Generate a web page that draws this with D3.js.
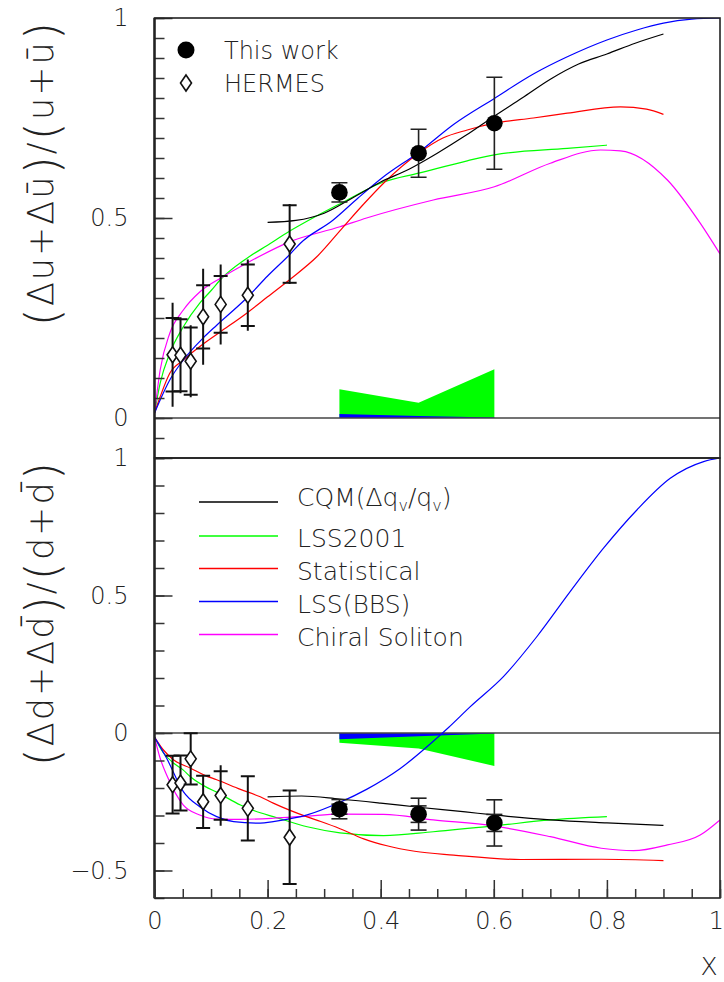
<!DOCTYPE html>
<html lang="en">
  <head>
    <meta charset="utf-8" />
    <script src="https://d3js.org/d3.v7.min.js"></script>
    <style>
      body { margin: 0; background: #fff; }
      text { font-family: "DejaVu Sans", "Liberation Sans", sans-serif; font-weight: 200; fill: #222; }
    </style>
  </head>
  <body>
    <script>
      // ---- data ----
      // measured points ("This work")
      var workX = [0.327, 0.467, 0.601];
      var workU = [0.564, 0.662, 0.737];
      var workUErr = [0.024, 0.06, 0.115];
      var workD = [-0.277, -0.295, -0.327];
      var workDErr = [0.035, 0.058, 0.084];
      var workDStat = [0.018, 0.03, 0.031];

      // HERMES points
      var hermesX = [0.032, 0.046, 0.064, 0.086, 0.117, 0.165, 0.239];
      var hermesU = [0.158, 0.157, 0.142, 0.253, 0.284, 0.307, 0.435];
      var hermesUStat = [0.092, 0.09, 0.084, 0.079, 0.071, 0.077, 0.097];
      var hermesUTot = [0.13, 0.095, 0.09, 0.12, 0.1, 0.089, 0.1];
      var hermesD = [-0.188, -0.182, -0.094, -0.25, -0.227, -0.274, -0.379];
      var hermesDStat = [0.105, 0.1, 0.093, 0.095, 0.088, 0.117, 0.17];
      var hermesDTot = [0.105, 0.1, 0.093, 0.095, 0.11, 0.117, 0.17];

      // model curves, upper panel [x, value]
      var cqmU = [[0.2,0.489],[0.25,0.494],[0.3,0.512],[0.35,0.55],[0.4,0.59],[0.45,0.622],[0.5,0.662],[0.55,0.706],[0.6,0.754],[0.65,0.8],[0.7,0.847],[0.75,0.885],[0.8,0.91],[0.85,0.937],[0.9,0.96]];
      var lss2001U = [[0,0.012],[0.01,0.087],[0.027,0.162],[0.051,0.228],[0.08,0.287],[0.101,0.32],[0.116,0.345],[0.163,0.399],[0.2,0.432],[0.24,0.468],[0.28,0.5],[0.33,0.537],[0.405,0.59],[0.467,0.612],[0.553,0.643],[0.601,0.658],[0.73,0.674],[0.8,0.682]];
      var statU = [[0,0.012],[0.01,0.053],[0.027,0.112],[0.051,0.145],[0.086,0.185],[0.116,0.215],[0.163,0.262],[0.2,0.303],[0.24,0.347],[0.287,0.403],[0.334,0.478],[0.37,0.535],[0.405,0.587],[0.467,0.662],[0.51,0.7],[0.553,0.72],[0.601,0.737],[0.67,0.75],[0.73,0.762],[0.824,0.778],[0.87,0.772],[0.9,0.759]];
      var bbsU = [[0,0.012],[0.01,0.045],[0.027,0.095],[0.051,0.145],[0.086,0.2],[0.11,0.232],[0.163,0.3],[0.2,0.355],[0.24,0.41],[0.258,0.437],[0.316,0.495],[0.36,0.55],[0.405,0.603],[0.467,0.664],[0.53,0.735],[0.601,0.799],[0.67,0.86],[0.73,0.903],[0.8,0.945],[0.853,0.97],[0.9,0.987],[0.95,0.997],[1,1]];
      var chiralU = [[0,0.012],[0.01,0.12],[0.027,0.212],[0.051,0.27],[0.08,0.315],[0.116,0.349],[0.163,0.387],[0.24,0.441],[0.328,0.478],[0.375,0.5],[0.493,0.545],[0.601,0.578],[0.7,0.637],[0.789,0.67],[0.824,0.668],[0.907,0.595],[0.965,0.487],[1,0.41]];

      // model curves, lower panel [x, value]
      var cqmD = [[0.2,-0.232],[0.26,-0.229],[0.327,-0.24],[0.4,-0.255],[0.467,-0.27],[0.55,-0.287],[0.6,-0.298],[0.7,-0.316],[0.8,-0.327],[0.9,-0.336]];
      var lss2001D = [[0,-0.015],[0.015,-0.07],[0.034,-0.11],[0.051,-0.135],[0.064,-0.16],[0.09,-0.195],[0.11,-0.215],[0.152,-0.262],[0.187,-0.29],[0.21,-0.304],[0.27,-0.341],[0.328,-0.363],[0.405,-0.373],[0.493,-0.359],[0.6,-0.338],[0.7,-0.316],[0.8,-0.304]];
      var statD = [[0,-0.015],[0.015,-0.06],[0.034,-0.098],[0.064,-0.128],[0.09,-0.155],[0.11,-0.17],[0.152,-0.205],[0.187,-0.232],[0.21,-0.255],[0.27,-0.305],[0.294,-0.322],[0.328,-0.348],[0.37,-0.385],[0.411,-0.41],[0.46,-0.43],[0.529,-0.444],[0.647,-0.46],[0.79,-0.459],[0.9,-0.464]];
      var bbsD = [[0,-0.015],[0.0215,-0.092],[0.051,-0.213],[0.08,-0.268],[0.11,-0.304],[0.14,-0.322],[0.187,-0.328],[0.21,-0.322],[0.27,-0.298],[0.327,-0.253],[0.375,-0.205],[0.434,-0.13],[0.493,-0.03],[0.52,0.02],[0.558,0.095],[0.617,0.205],[0.676,0.35],[0.735,0.514],[0.794,0.672],[0.853,0.811],[0.912,0.926],[0.971,0.987],[1,1]];
      var chiralD = [[0,-0.015],[0.0097,-0.09],[0.0215,-0.153],[0.051,-0.262],[0.08,-0.298],[0.11,-0.313],[0.152,-0.314],[0.21,-0.31],[0.27,-0.302],[0.327,-0.295],[0.405,-0.296],[0.493,-0.316],[0.6,-0.338],[0.7,-0.377],[0.79,-0.419],[0.847,-0.428],[0.907,-0.407],[0.965,-0.371],[1,-0.316]];

      // uncertainty bands at the measured x
      var bandX = [0.327, 0.467, 0.601];
      var bandGreenU = [0.072, 0.038, 0.122];
      var bandBlueU = [0.01, 0.005, 0.001];
      var bandGreenD = [-0.035, -0.056, -0.12];
      var bandBlueD = [-0.023, -0.012, -0.002];

      var legendNames = ["CQM", "LSS2001", "Statistical", "LSS(BBS)", "Chiral Soliton"];
      var legendColors = ["#000000", "#00ff00", "#ff0000", "#0000ff", "#ff00ff"];

      var xTicks = [0, 0.2, 0.4, 0.6, 0.8, 1];
      var yTicksTop = [0, 0.5, 1];
      var yTicksBot = [-0.5, 0, 0.5, 1];

      // ---- layout ----
      var width = 724, height = 982;
      var left = 154.5, right = 720;

      var svg = d3.select("body").append("svg")
        .attr("width", width)
        .attr("height", height);

      var x = d3.scaleLinear().domain([0, 1]).range([left, right]);
      var yTop = d3.scaleLinear().domain([-0.1, 1]).range([458, 18]);
      var yBot = d3.scaleLinear().domain([-0.6, 1]).range([898, 458]);

      var fmt = function (d) { return d < 0 ? "\u2212" + Math.abs(d) : String(d); };

      svg.append("clipPath").attr("id", "clipTop")
        .append("rect").attr("x", left).attr("y", 18).attr("width", right - left).attr("height", 440);
      svg.append("clipPath").attr("id", "clipBot")
        .append("rect").attr("x", left).attr("y", 458).attr("width", right - left).attr("height", 440);

      function styleAxis(a) {
        a.select(".domain").remove();
        a.selectAll("line").attr("stroke", "#333").attr("stroke-width", 1.5);
        a.selectAll("text")
          .attr("font-size", 24)
          .attr("font-family", "DejaVu Sans, sans-serif")
          .attr("font-weight", 200)
          .attr("fill", "#222");
      }

      function drawPanel(y, clip, curves, bandG, bandB, yMinor, yMajor, workY, workErr, workStat, hY, hStat, hTot) {
        var g = svg.append("g").attr("clip-path", "url(#" + clip + ")");

        // bands
        var area = d3.area()
          .x(function (d) { return x(d[0]); })
          .y0(y(0))
          .y1(function (d) { return y(d[1]); });
        g.append("path").datum(d3.zip(bandX, bandG)).attr("d", area).attr("fill", "#00ff00");
        g.append("path").datum(d3.zip(bandX, bandB)).attr("d", area).attr("fill", "#0000ff");

        // zero line
        g.append("line")
          .attr("x1", left).attr("x2", right)
          .attr("y1", y(0)).attr("y2", y(0))
          .attr("stroke", "#444").attr("stroke-width", 1.5);

        var line = d3.line()
          .x(function (d) { return x(d[0]); })
          .y(function (d) { return y(d[1]); })
          .curve(d3.curveMonotoneX);

        g.selectAll("path.curve")
          .data(curves)
          .join("path")
          .attr("class", "curve")
          .attr("d", function (d) { return line(d.pts); })
          .attr("fill", "none")
          .attr("stroke", function (d) { return d.color; })
          .attr("stroke-width", 1.2);

        // HERMES error bars
        var hData = hermesX.map(function (v, i) {
          return { x: v, y: hY[i], s: hStat[i], t: hTot[i] };
        });
        var hg = g.selectAll("g.hermes").data(hData).join("g").attr("class", "hermes");
        hg.append("line")
          .attr("x1", function (d) { return x(d.x); })
          .attr("x2", function (d) { return x(d.x); })
          .attr("y1", function (d) { return y(d.y + d.t); })
          .attr("y2", function (d) { return y(d.y - d.t); })
          .attr("stroke", "#111").attr("stroke-width", 2);
        [1, -1].forEach(function (sgn) {
          hg.append("line")
            .attr("x1", function (d) { return x(d.x) - 7; })
            .attr("x2", function (d) { return x(d.x) + 7; })
            .attr("y1", function (d) { return y(d.y + sgn * d.s); })
            .attr("y2", function (d) { return y(d.y + sgn * d.s); })
            .attr("stroke", "#111").attr("stroke-width", 2);
        });
        hg.append("path")
          .attr("d", function (d) {
            var cx = x(d.x), cy = y(d.y);
            return "M" + cx + "," + (cy - 8) + "L" + (cx + 5.5) + "," + cy +
              "L" + cx + "," + (cy + 8) + "L" + (cx - 5.5) + "," + cy + "Z";
          })
          .attr("fill", "#fff").attr("stroke", "#111").attr("stroke-width", 1.6);

        // this work
        var wData = workX.map(function (v, i) {
          return { x: v, y: workY[i], e: workErr[i], s: workStat ? workStat[i] : null };
        });
        var wg = g.selectAll("g.work").data(wData).join("g").attr("class", "work");
        wg.append("line")
          .attr("x1", function (d) { return x(d.x); })
          .attr("x2", function (d) { return x(d.x); })
          .attr("y1", function (d) { return y(d.y + d.e); })
          .attr("y2", function (d) { return y(d.y - d.e); })
          .attr("stroke", "#222").attr("stroke-width", 1.6);
        [1, -1].forEach(function (sgn) {
          wg.append("line")
            .attr("x1", function (d) { return x(d.x) - 8; })
            .attr("x2", function (d) { return x(d.x) + 8; })
            .attr("y1", function (d) { return y(d.y + sgn * d.e); })
            .attr("y2", function (d) { return y(d.y + sgn * d.e); })
            .attr("stroke", "#222").attr("stroke-width", 1.6);
          if (workStat) {
            wg.append("line")
              .attr("x1", function (d) { return x(d.x) - 8; })
              .attr("x2", function (d) { return x(d.x) + 8; })
              .attr("y1", function (d) { return y(d.y + sgn * d.s); })
              .attr("y2", function (d) { return y(d.y + sgn * d.s); })
              .attr("stroke", "#222").attr("stroke-width", 1.6);
          }
        });
        wg.append("circle")
          .attr("cx", function (d) { return x(d.x); })
          .attr("cy", function (d) { return y(d.y); })
          .attr("r", 8.3)
          .attr("fill", "#000");

        // y axis: inward ticks
        var ax = svg.append("g").attr("transform", "translate(" + left + ",0)");
        ax.call(d3.axisLeft(y).tickValues(yMinor).tickSize(-10).tickFormat(""));
        var axM = svg.append("g").attr("transform", "translate(" + left + ",0)");
        axM.call(d3.axisLeft(y).tickValues(yMajor).tickSize(-18).tickPadding(26).tickFormat(fmt));
        styleAxis(ax);
        styleAxis(axM);
      }

      var minorTop = d3.range(-2, 21).map(function (i) { return i * 0.05; });
      var minorBot = d3.range(-6, 11).map(function (i) { return i * 0.1; });

      drawPanel(yTop, "clipTop",
        [{ pts: lss2001U, color: "#00ff00" }, { pts: chiralU, color: "#ff00ff" }, { pts: statU, color: "#ff0000" },
         { pts: bbsU, color: "#0000ff" }, { pts: cqmU, color: "#000000" }],
        bandGreenU, bandBlueU, minorTop, yTicksTop, workU, workUErr, null,
        hermesU, hermesUStat, hermesUTot);

      drawPanel(yBot, "clipBot",
        [{ pts: lss2001D, color: "#00ff00" }, { pts: chiralD, color: "#ff00ff" }, { pts: statD, color: "#ff0000" },
         { pts: bbsD, color: "#0000ff" }, { pts: cqmD, color: "#000000" }],
        bandGreenD, bandBlueD, minorBot, yTicksBot, workD, workDErr, workDStat,
        hermesD, hermesDStat, hermesDTot);

      // frames
      [[18, 458], [458, 898]].forEach(function (r) {
        svg.append("rect")
          .attr("x", left).attr("y", r[0])
          .attr("width", right - left).attr("height", r[1] - r[0])
          .attr("fill", "none").attr("stroke", "#222").attr("stroke-width", 1.6);
      });
      svg.append("line").attr("x1", left).attr("x2", left).attr("y1", 18).attr("y2", 898)
        .attr("stroke", "#222").attr("stroke-width", 2.4);

      // x axis
      var xMinor = d3.range(0, 21).map(function (i) { return i * 0.05; });
      var xa = svg.append("g").attr("transform", "translate(0,898)");
      xa.call(d3.axisBottom(x).tickValues(xMinor).tickSize(-9).tickFormat(""));
      var xaM = svg.append("g").attr("transform", "translate(0,898)");
      xaM.call(d3.axisBottom(x).tickValues(xTicks).tickSize(-18).tickPadding(14).tickFormat(fmt));
      styleAxis(xa);
      styleAxis(xaM);
      xaM.selectAll(".tick text").filter(function (d) { return d === 1; }).attr("dx", -4);

      svg.append("text").attr("x", 709).attr("y", 975)
        .attr("text-anchor", "middle").attr("font-size", 25).text("X");

      // y titles, with tall brackets as in the original
      function yTitle(ty, parts) {
        var t = svg.append("text")
          .attr("transform", "translate(53," + ty + ") rotate(-90)")
          .attr("text-anchor", "end")
          .attr("font-size", 35)
          .attr("letter-spacing", 2);
        parts.forEach(function (p) {
          var big = p === "(" || p === ")";
          t.append("tspan")
            .attr("font-size", big ? 47 : 35)
            .attr("dy", big ? 5 : -5)
            .text(p);
        });
        t.select("tspan").attr("dy", 5);
      }
      yTitle(20, ["(", "\u0394u+\u0394\u016b", ")", "/", "(", "u+\u016b", ")"]);
      yTitle(460, ["(", "\u0394d+\u0394d\u0304", ")", "/", "(", "d+d\u0304", ")"]);

      // top legend
      svg.append("circle").attr("cx", 186).attr("cy", 50).attr("r", 8.5).attr("fill", "#000");
      svg.append("path")
        .attr("d", "M186,75L191.5,83L186,91L180.5,83Z")
        .attr("fill", "#fff").attr("stroke", "#111").attr("stroke-width", 1.6);
      svg.append("text").attr("x", 224).attr("y", 59).attr("font-size", 24).text("This work");
      svg.append("text").attr("x", 224).attr("y", 92).attr("font-size", 24).text("HERMES");

      // bottom legend
      var legY = [502, 536, 568.5, 601.5, 634.5];
      legendNames.forEach(function (name, i) {
        svg.append("line")
          .attr("x1", 199).attr("x2", 278)
          .attr("y1", legY[i]).attr("y2", legY[i])
          .attr("stroke", legendColors[i]).attr("stroke-width", 1.4);
        var t = svg.append("text").attr("x", 297).attr("y", legY[i] + (i === 0 ? 4 : 11)).attr("font-size", 25);
        if (i === 0) {
          t.append("tspan").text("CQM(\u0394q");
          t.append("tspan").attr("font-size", 16).attr("dy", 5).text("v");
          t.append("tspan").attr("dy", -5).text("/q");
          t.append("tspan").attr("font-size", 16).attr("dy", 5).text("v");
          t.append("tspan").attr("dy", -5).text(")");
        } else {
          t.text(name);
        }
      });
    </script>
  </body>
</html>
